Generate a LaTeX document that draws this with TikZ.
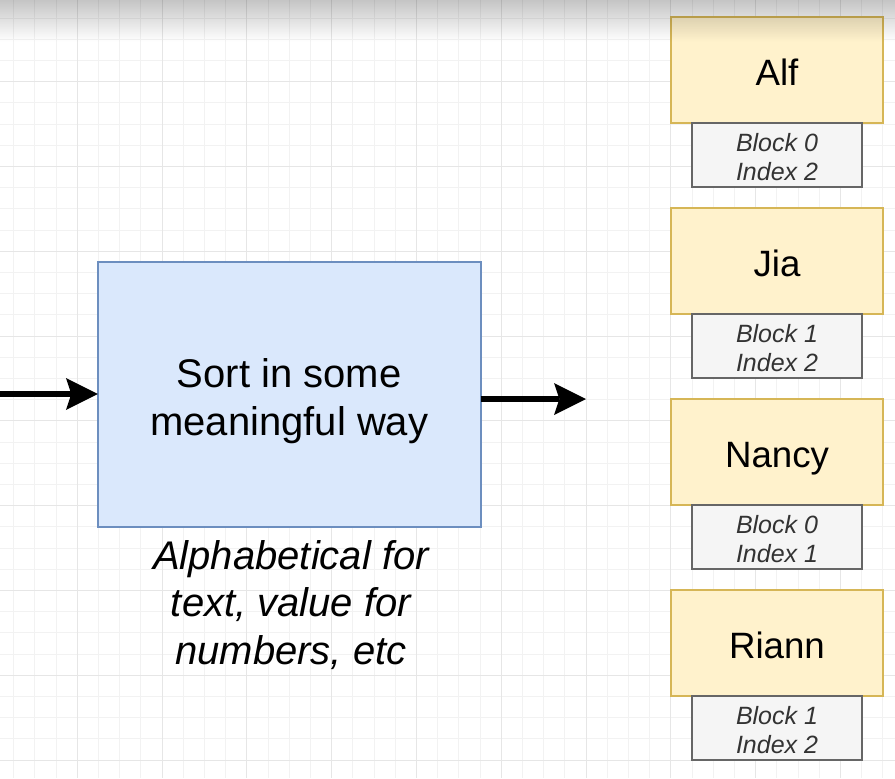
\documentclass[tikz,border=0pt]{standalone}
\usepackage{fontspec}
\setmainfont{Liberation Sans}
\usetikzlibrary{arrows.meta}
\definecolor{sortfill}{HTML}{DAE8FC}
\definecolor{sortline}{HTML}{6C8EBF}
\definecolor{namefill}{HTML}{FFF2CC}
\definecolor{nameline}{HTML}{D6B656}
\definecolor{blkfill}{HTML}{F5F5F5}
\definecolor{blkline}{HTML}{666666}
\definecolor{blktext}{HTML}{333333}
\definecolor{gridminor}{HTML}{F2F2F2}
\definecolor{gridmajor}{HTML}{E6E6E6}
\tikzset{
  minorline/.style={draw=gridminor, line width=0.7pt},
  majorline/.style={draw=gridmajor, line width=0.8pt},
  sortbox/.style={draw=sortline, fill=sortfill, line width=1.5pt, inner sep=0pt, outer sep=0pt,
    minimum width=286.9pt, minimum height=198.75pt, align=center,
    font=\fontsize{30pt}{35.4pt}\selectfont},
  notetext/.style={align=center, inner sep=0pt, font=\fontsize{30pt}{35.6pt}\selectfont\itshape},
  namebox/.style={draw=nameline, fill=namefill, line width=1.5pt, inner sep=0pt, outer sep=0pt,
    minimum width=159pt, minimum height=79.5pt, text height=28.5pt, text depth=6pt,
    font=\fontsize{27.5pt}{33pt}\selectfont},
  blkbox/.style={draw=blkline, fill=blkfill, line width=1.6pt, inner sep=0pt, outer sep=0pt,
    minimum width=127.5pt, minimum height=48pt, align=center, text=blktext,
    font=\fontsize{18.75pt}{21.75pt}\selectfont\itshape},
  flow/.style={draw=black, line width=4.5pt,
    -{Stealth[length=24pt, width=24pt, inset=4pt, line width=0pt]}}
}
\begin{document}
\begin{tikzpicture}[x=0.75pt,y=-0.75pt]
\useasboundingbox (0,0) rectangle (895,778);
\fill[white] (0,0) rectangle (895,778);
% grid
\foreach \k in {0,...,41}{\draw[minorline] ({13.7+21.2*\k},0) -- ({13.7+21.2*\k},778);}
\foreach \k in {0,...,35}{\draw[minorline] (0,{18.1+21.2*\k}) -- (895,{18.1+21.2*\k});}
\foreach \k in {3,7,...,39}{\draw[majorline] ({13.7+21.2*\k},0) -- ({13.7+21.2*\k},778);}
\foreach \k in {3,7,...,35}{\draw[majorline] (0,{18.1+21.2*\k}) -- (895,{18.1+21.2*\k});}

% main box
\node[sortbox] (sort) at (289.25,394) {\rule{0pt}{32.5pt}Sort in some\\meaningful way};
\node[notetext] (note) at (291,605) {Alphabetical for\\text, value for\\numbers, etc};

% arrows
\coordinate (inend) at (0,394);
\coordinate (outend) at (586,399);
\draw[flow] (inend) -- (sort.west);
\draw[flow] (sort.east |- outend) -- (outend);

% right column
\foreach \nm/\blk/\idx [count=\i from 0] in {Alf/0/2, Jia/1/2, Nancy/0/1, Riann/1/2}{
  \node[namebox] (n\i) at (777,{70+191*\i}) {\nm};
  \node[blkbox] (b\i) at (777,{155+191*\i}) {\rule{0pt}{16.8pt}Block \blk\\Index \idx};
}

% top shadow
\foreach \s in {0,...,41}{
  \pgfmathsetmacro\op{0.23*(1-(\s+0.5)/42)}
  \fill[black, opacity=\op] (0,\s) rectangle (895,\s+1);
}
\end{tikzpicture}
\end{document}
